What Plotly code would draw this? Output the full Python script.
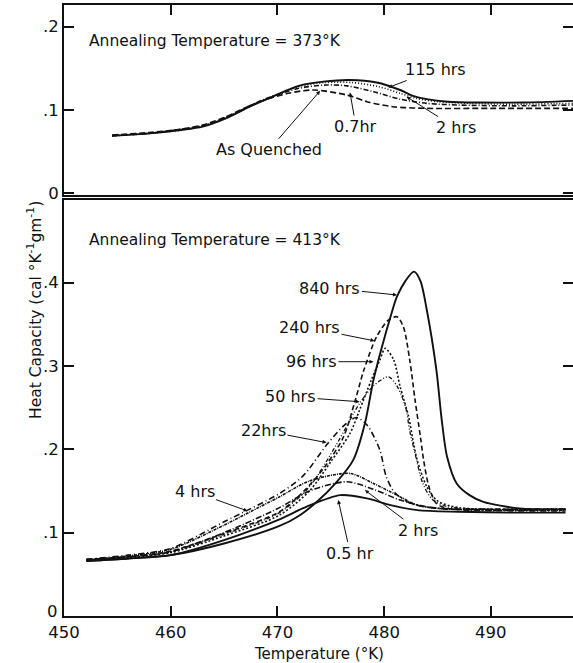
import plotly.graph_objects as go

# ---- Annealing temperature 373 K (upper panel) ----
aq_373_x = [454.5, 458, 461, 463, 465, 467.4, 469, 471, 473.3, 476.5, 478.4, 480.8, 484, 490, 497.7]
aq_373_y = [0.070, 0.073, 0.077, 0.082, 0.091, 0.105, 0.113, 0.120, 0.124, 0.118, 0.110, 0.104, 0.102, 0.102, 0.102]

h07_373_x = [454.5, 458, 461, 463, 465, 467.4, 469, 472, 474.5, 476.5, 479, 481.5, 484, 487, 492, 497.7]
h07_373_y = [0.069, 0.072, 0.077, 0.081, 0.090, 0.105, 0.114, 0.126, 0.130, 0.129, 0.122, 0.113, 0.108, 0.106, 0.105, 0.106]

h2_373_x = [454.5, 458, 461, 463, 465, 467.4, 469, 472, 474.5, 477, 479.5, 481.5, 483, 485, 488, 492, 497.7]
h2_373_y = [0.069, 0.072, 0.076, 0.081, 0.090, 0.104, 0.113, 0.128, 0.133, 0.133, 0.128, 0.120, 0.114, 0.110, 0.108, 0.107, 0.108]

h115_373_x = [454.5, 458, 461, 463, 465, 467.4, 469, 472, 474.3, 476.8, 479.3, 481.5, 482.7, 484, 486, 489, 493, 497.7]
h115_373_y = [0.069, 0.072, 0.076, 0.080, 0.089, 0.104, 0.113, 0.129, 0.134, 0.136, 0.133, 0.124, 0.117, 0.113, 0.110, 0.109, 0.109, 0.111]

# ---- Annealing temperature 413 K (lower panel) ----
h05_413_x = [452.1, 456, 460, 465, 470.2, 472.7, 475.9, 478.4, 480.6, 483.1, 487, 492, 497]
h05_413_y = [0.066, 0.069, 0.073, 0.091, 0.116, 0.131, 0.145, 0.141, 0.133, 0.127, 0.125, 0.124, 0.124]

h2_413_x = [452.1, 456, 460, 465, 470.2, 473, 476.5, 479, 481.5, 484, 488, 497]
h2_413_y = [0.067, 0.071, 0.077, 0.100, 0.130, 0.150, 0.161, 0.152, 0.139, 0.131, 0.127, 0.126]

h4_413_x = [452.1, 456, 460, 465, 467.3, 470.2, 473, 476.8, 479, 481.2, 483.1, 485.2, 490, 497]
h4_413_y = [0.067, 0.072, 0.080, 0.109, 0.124, 0.143, 0.162, 0.171, 0.159, 0.145, 0.133, 0.129, 0.127, 0.127]

h22_413_x = [452.1, 456, 460, 465, 470.2, 472.4, 474.6, 476.2, 477.4, 478.4, 479.6, 480.2, 481, 482.5, 485, 490, 497]
h22_413_y = [0.068, 0.073, 0.081, 0.113, 0.147, 0.168, 0.205, 0.228, 0.238, 0.229, 0.199, 0.167, 0.148, 0.135, 0.129, 0.128, 0.128]

h50_413_x = [452.1, 456, 460, 465, 470.2, 473, 475.5, 477.7, 479, 480.4, 481.2, 482, 482.4, 482.9, 483.6, 484.5, 486, 490, 497]
h50_413_y = [0.067, 0.071, 0.077, 0.098, 0.124, 0.155, 0.205, 0.255, 0.276, 0.287, 0.276, 0.251, 0.222, 0.195, 0.160, 0.140, 0.131, 0.128, 0.128]

h96_413_x = [452.1, 456, 460, 465, 470.2, 473, 475, 476.8, 477.7, 478.8, 479.6, 480.1, 480.9, 481.5, 482.3, 482.7, 483.1, 484, 485, 487, 497]
h96_413_y = [0.067, 0.070, 0.076, 0.096, 0.121, 0.150, 0.185, 0.219, 0.247, 0.283, 0.307, 0.321, 0.307, 0.275, 0.239, 0.211, 0.187, 0.155, 0.138, 0.130, 0.128]

h240_413_x = [452.1, 456, 460, 465, 470.2, 472.5, 474.5, 476.2, 477.3, 478.1, 479.3, 480.4, 481.2, 481.8, 482.4, 482.9, 483.4, 483.7, 484.2, 484.9, 486, 490, 497]
h240_413_y = [0.068, 0.071, 0.078, 0.099, 0.125, 0.150, 0.180, 0.215, 0.259, 0.295, 0.335, 0.355, 0.359, 0.347, 0.307, 0.259, 0.215, 0.187, 0.155, 0.135, 0.129, 0.128, 0.128]

h840_413_x = [452.1, 456, 460, 465, 470.2, 472, 473.7, 475.5, 477.1, 478.2, 479.0, 479.8, 480.6, 481.2, 482.0, 482.8,
              483.4, 484.0, 484.9, 485.4, 485.9, 486.8, 488.0, 489.3, 492.7, 497]
h840_413_y = [0.066, 0.069, 0.073, 0.087, 0.108, 0.120, 0.137, 0.160, 0.187, 0.231, 0.283, 0.323, 0.359, 0.383, 0.402, 0.413,
              0.402, 0.367, 0.295, 0.235, 0.191, 0.159, 0.145, 0.137, 0.129, 0.128]

x_tick_vals = [450, 460, 470, 480, 490]
x_tick_text = ["450", "460", "470", "480", "490"]
top_tick_vals = [0, 0.1, 0.2]
top_tick_text = ["0", ".1", ".2"]
bot_tick_vals = [0, 0.1, 0.2, 0.3, 0.4]
bot_tick_text = ["", ".1", ".2", ".3", ".4"]   # the zero label is placed separately, raised off the x labels
bot_zero_text = "0"

FONT = "DejaVu Sans"
INK = "#111111"
X_RANGE = [450, 497.7]

fig = go.Figure()

def curve(x, y, dash, axis, width=1.6):
    xa, ya = ("x2", "y2") if axis == "top" else ("x", "y")
    fig.add_trace(go.Scatter(
        x=x, y=y, mode="lines", xaxis=xa, yaxis=ya,
        line=dict(color=INK, width=width, dash=dash, shape="spline", smoothing=0.8),
        showlegend=False, hoverinfo="skip"))

# upper panel curves
curve(aq_373_x, aq_373_y, "6px,3px", "top")
curve(h07_373_x, h07_373_y, "5px,2px,1px,2px", "top")
curve(h2_373_x, h2_373_y, "1px,2px", "top")
curve(h115_373_x, h115_373_y, "solid", "top", 1.9)

# lower panel curves
curve(h05_413_x, h05_413_y, "solid", "bot", 1.9)
curve(h2_413_x, h2_413_y, "6px,2px,1px,2px", "bot")
curve(h4_413_x, h4_413_y, "3px,1px,1px,1px", "bot")
curve(h22_413_x, h22_413_y, "6px,3px,1px,3px", "bot")
curve(h50_413_x, h50_413_y, "1px,2px,1px,2px,4px,2px", "bot", 1.3)
curve(h96_413_x, h96_413_y, "2px,2px", "bot")
curve(h240_413_x, h240_413_y, "5px,3px", "bot")
curve(h840_413_x, h840_413_y, "solid", "bot", 1.9)

TICK_FONT = dict(family=FONT, size=16.5, color=INK)
axis_common = dict(showgrid=False, zeroline=False, linecolor=INK, linewidth=2,
                   ticks="inside", ticklen=10, tickwidth=1.5, tickcolor=INK,
                   tickfont=TICK_FONT)

fig.update_layout(
    width=573, height=663,
    margin=dict(l=64, r=0, t=5, b=47),
    paper_bgcolor="white", plot_bgcolor="white",
    font=dict(family=FONT, color=INK),
    # lower panel
    xaxis=dict(**axis_common, range=X_RANGE, tickvals=x_tick_vals, ticktext=x_tick_text,
               showline=True, mirror=True, anchor="y", domain=[0, 1]),
    yaxis=dict(**axis_common, range=[0, 0.499], tickvals=bot_tick_vals, ticktext=bot_tick_text,
               showline=True, anchor="x", domain=[0, 0.6809]),
    yaxis3=dict(**axis_common, range=[0, 0.499], tickvals=bot_tick_vals, showticklabels=False,
                showline=False, overlaying="y", side="right", anchor="x"),
    # upper panel
    xaxis2=dict(**axis_common, range=X_RANGE, tickvals=[460, 470, 480, 490], showticklabels=False,
                showline=True, mirror=True, side="top", anchor="y2", domain=[0, 1]),
    yaxis2=dict(**axis_common, range=[-0.002, 0.226], tickvals=top_tick_vals, ticktext=top_tick_text,
                showline=True, anchor="x2", domain=[0.689, 1]),
    yaxis4=dict(**axis_common, range=[-0.002, 0.226], tickvals=top_tick_vals, showticklabels=False,
                showline=False, overlaying="y2", side="right", anchor="x2"),
)

# empty traces so the right-hand tick axes are drawn
fig.add_trace(go.Scatter(x=[None], y=[None], xaxis="x", yaxis="y3", showlegend=False))
fig.add_trace(go.Scatter(x=[None], y=[None], xaxis="x2", yaxis="y4", showlegend=False))

# zero label of the lower panel
fig.add_annotation(text=bot_zero_text, xref="paper", yref="y", x=0, y=bot_tick_vals[0],
                   xanchor="right", yanchor="middle", xshift=-4, yshift=5,
                   showarrow=False, font=TICK_FONT)

label_font = dict(family=FONT, size=16, color=INK)

# panel headings
fig.add_annotation(text="Annealing Temperature = 373°K", xref="paper", yref="y2",
                   x=0.045, y=0.183, xanchor="left", yanchor="middle", showarrow=False,
                   font=dict(family=FONT, size=15.5, color=INK))
fig.add_annotation(text="Annealing Temperature = 413°K", xref="paper", yref="y",
                   x=0.045, y=0.451, xanchor="left", yanchor="middle", showarrow=False,
                   font=dict(family=FONT, size=15.5, color=INK))

# axis titles
fig.add_annotation(text="Heat Capacity (cal °K<sup>-1</sup>gm<sup>-1</sup>)", xref="paper", yref="paper",
                   x=0, y=0.5, xshift=-42, textangle=-90, showarrow=False,
                   font=dict(family=FONT, size=15.5, color=INK))
fig.add_annotation(text="Temperature (°K)", xref="paper", yref="paper",
                   x=0.5, y=0, yshift=-38, xanchor="center", yanchor="middle", showarrow=False,
                   font=dict(family=FONT, size=15, color=INK))

def leader(text, x, y, ax, ay, axis):
    xr, yr = ("x2", "y2") if axis == "top" else ("x", "y")
    fig.add_annotation(text=text, x=x, y=y, xref=xr, yref=yr, ax=ax, ay=ay,
                       showarrow=True, arrowhead=2, arrowsize=0.8, arrowwidth=1,
                       arrowcolor=INK, font=label_font)

# upper panel labels
leader("115 hrs", 480.4, 0.127, 47, -18, "top")
leader("0.7hr", 476.8, 0.121, 6, 34, "top")
leader("2 hrs", 482.1, 0.116, 49, 31, "top")
leader("As Quenched", 474.0, 0.123, -51, 59, "top")

# lower panel labels
leader("840 hrs", 481.2, 0.385, -67, -7, "bot")
leader("240 hrs", 479.1, 0.330, -65, -13, "bot")
leader("96 hrs", 479.0, 0.305, -62, 0, "bot")
leader("50 hrs", 477.7, 0.257, -69, -5, "bot")
leader("22hrs", 474.6, 0.208, -63, -12, "bot")
leader("4 hrs", 467.2, 0.126, -53, -19, "bot")
leader("2 hrs", 478.2, 0.151, 53, 40, "bot")
leader("0.5 hr", 475.7, 0.139, 12, 53, "bot")

fig.write_html("out.html")
